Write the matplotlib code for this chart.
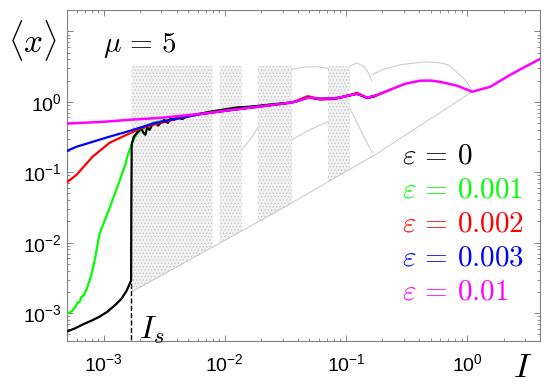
import numpy as np
import matplotlib
matplotlib.use("Agg")
import matplotlib.pyplot as plt

plt.rcParams['font.family'] = ['Liberation Sans', 'DejaVu Sans']
plt.rcParams['mathtext.fontset'] = 'cm'
plt.rcParams['hatch.color'] = '#cacaca'
plt.rcParams['hatch.linewidth'] = 0.6

# ---- curves <x>(I), log10(I) ----
lgI_mag = [-3.306, -3.0, -2.785, -2.537, -2.207, -1.959, -1.711, -1.463, -1.421, -1.36, -1.314,
           -1.25, -1.215, -1.091, -1.0, -0.909, -0.86, -0.826, -0.760, -0.636, -0.512, -0.388,
           -0.30, -0.223, -0.083, 0.041, 0.190, 0.355, 0.479, 0.603]
x_mag = [0.49, 0.52, 0.555, 0.59, 0.67, 0.76, 0.856, 0.968, 1.0, 1.08, 1.14,
         1.12, 1.10, 1.12, 1.2, 1.30, 1.22, 1.14, 1.22, 1.48, 1.80, 1.99,
         2.0, 1.92, 1.69, 1.39, 1.63, 2.41, 3.14, 4.07]

lgI_red = [-3.306, -3.223, -3.091, -2.950, -2.810, -2.678, -2.595, -2.4, -2.207, -1.959, -1.711,
           -1.463, -1.421, -1.36, -1.314, -1.25, -1.215, -1.091, -1.0, -0.909, -0.86, -0.826,
           -0.760, -0.636]
x_red = [0.071, 0.092, 0.166, 0.262, 0.34, 0.428, 0.47, 0.57, 0.665, 0.76, 0.856,
         0.968, 1.01, 1.12, 1.20, 1.13, 1.07, 1.10, 1.2, 1.34, 1.22, 1.12,
         1.20, 1.48]

lgI_blue = [-3.306, -3.223, -3.091, -2.950, -2.810, -2.678, -2.595, -2.4, -2.207, -1.959, -1.711,
            -1.463, -1.421, -1.314, -1.215, -1.091, -0.909, -0.826, -0.760]
x_blue = [0.20, 0.23, 0.27, 0.32, 0.375, 0.44, 0.49, 0.575, 0.665, 0.76, 0.856,
          0.968, 1.0, 1.15, 1.10, 1.11, 1.30, 1.14, 1.21]

lgI_green = [-3.306, -3.281, -3.256, -3.231, -3.215, -3.198, -3.182, -3.165, -3.149, -3.132,
             -3.116, -3.099, -3.083, -3.066, -3.050, -3.033, -3.008, -2.975, -2.950, -2.926,
             -2.901, -2.876, -2.851, -2.826, -2.802, -2.769, -2.744, -2.719, -2.686, -2.645,
             -2.595, -2.5, -2.4, -2.3, -2.207, -2.1, -1.959, -1.85, -1.711, -1.6,
             -1.463, -1.421, -1.314, -1.215, -1.091, -0.909, -0.826, -0.760]
x_green = [9.84e-4, 1.02e-3, 1.08e-3, 1.24e-3, 1.41e-3, 1.46e-3, 1.71e-3, 1.77e-3, 2.02e-3, 2.38e-3,
           2.89e-3, 3.63e-3, 4.72e-3, 6.54e-3, 9.37e-3, 0.0134, 0.0174, 0.0242, 0.031, 0.0407,
           0.0529, 0.0687, 0.0922, 0.120, 0.171, 0.246, 0.309, 0.363, 0.40, 0.44,
           0.504, 0.54, 0.58, 0.63, 0.67, 0.74, 0.78, 0.82, 0.87, 0.93,
           0.97, 1.0, 1.15, 1.10, 1.11, 1.30, 1.14, 1.21]

lgI_black = [-3.306, -3.240, -3.174, -3.099, -3.033, -2.967, -2.893, -2.851, -2.810, -2.773,
             -2.771, -2.768, -2.75, -2.72, -2.69, -2.67, -2.655, -2.64, -2.62, -2.60,
             -2.57, -2.55, -2.52, -2.50, -2.47, -2.45, -2.42, -2.40, -2.35, -2.30,
             -2.2, -2.1, -2.0, -1.9, -1.8, -1.711, -1.6, -1.463, -1.421, -1.314,
             -1.215, -1.091, -0.909, -0.826, -0.760]
x_black = [5.47e-4, 6.03e-4, 6.87e-4, 7.83e-4, 8.92e-4, 1.05e-3, 1.36e-3, 1.61e-3, 2.08e-3, 2.9e-3,
           0.03, 0.25, 0.32, 0.37, 0.42, 0.36, 0.34, 0.43, 0.40, 0.47,
           0.50, 0.46, 0.52, 0.55, 0.50, 0.57, 0.55, 0.60, 0.57, 0.63,
           0.68, 0.73, 0.78, 0.83, 0.85, 0.88, 0.92, 0.97, 1.0, 1.15,
           1.10, 1.11, 1.30, 1.14, 1.21]

I_s = 1.69e-3
x_at_Is = 2.9e-3

# ---- grey bifurcation background (chaotic bands + periodic branches) ----
band_left = [1.70e-3, 9.09e-3, 0.0187, 0.071]
band_right = [7.96e-3, 0.0138, 0.0358, 0.108]
band_low_left = [2.0e-3, 9.9e-3, 0.0196, 0.073]
band_low_right = [8.7e-3, 0.0147, 0.036, 0.111]
band_top = 3.2

branches = {
    'lower': ([1.75e-3, 0.0259, 0.174, 1.10], [2.05e-3, 0.0267, 0.177, 1.39]),
    'arc': (10 ** np.array([-0.785, -0.702, -0.554, -0.347, -0.223, -0.157, -0.041, 0.008, 0.041]),
            [2.42, 2.84, 3.35, 3.69, 3.57, 3.35, 2.26, 1.80, 1.39]),
    'lobe': (10 ** np.array([-0.967, -0.909, -0.851, -0.810, -0.785]), [3.24, 3.56, 3.14, 2.49, 1.92]),
    'drop': (10 ** np.array([-0.967, -0.88, -0.785]), [0.80, 0.40, 0.19]),
    'mid1': (10 ** np.array([-1.446, -1.298, -1.149]), [0.289, 0.401, 0.52]),
    'top1': (10 ** np.array([-1.446, -1.35, -1.25, -1.149]), [2.9, 3.1, 3.15, 3.0]),
    'mid2': (10 ** np.array([-1.860, -1.793, -1.727]), [0.209, 0.289, 0.428]),
}

fig = plt.figure(figsize=(5.5, 3.89), dpi=100)
ax = fig.add_axes([0.122, 0.123, 0.860, 0.851])
ax.set_xscale('log')
ax.set_yscale('log')

for l, r, bl, br in zip(band_left, band_right, band_low_left, band_low_right):
    ax.fill_between([l, r], [bl, br], [band_top, band_top], facecolor='#f1f1f1',
                    edgecolor='#cacaca', hatch='.....', lw=0, zorder=1)
for bx, by in branches.values():
    ax.plot(bx, by, color='#c8c8c8', lw=0.7, zorder=1)

ax.plot([I_s, I_s], [1e-4, x_at_Is], 'k--', lw=1.0, zorder=2)
ax.plot(10 ** np.array(lgI_green), x_green, color='#00ff00', lw=1.6, zorder=3)
ax.plot(10 ** np.array(lgI_black), x_black, color='k', lw=1.6, zorder=3)
ax.plot(10 ** np.array(lgI_red), x_red, color='#ff0000', lw=1.6, zorder=4)
ax.plot(10 ** np.array(lgI_blue), x_blue, color='#0000ff', lw=1.6, zorder=4)
ax.plot(10 ** np.array(lgI_mag), x_mag, color='#ff00ff', lw=1.8, zorder=5)

ax.set_xlim(5e-4, 4.0)
ax.set_ylim(4e-4, 20)
ax.set_xticks([1e-3, 1e-2, 1e-1, 1e0])
ax.set_xticklabels([r'$\mathdefault{10^{-3}}$', r'$\mathdefault{10^{-2}}$',
                    r'$\mathdefault{10^{-1}}$', r'$\mathdefault{10^{0}}$'])
ax.set_yticks([1e-3, 1e-2, 1e-1, 1e0, 1e1])
ax.set_yticklabels([r'$\mathdefault{10^{-3}}$', r'$\mathdefault{10^{-2}}$',
                    r'$\mathdefault{10^{-1}}$', r'$\mathdefault{10^{0}}$', ''])

ax.tick_params(which='both', direction='in', top=True, right=True, color='#808080', labelsize=14)
ax.tick_params(which='major', length=4, width=0.7)
ax.tick_params(which='minor', length=2, width=0.6)
ax.tick_params(axis='x', pad=9)
ax.tick_params(axis='y', pad=4)
for s in ax.spines.values():
    s.set_color('#808080')
    s.set_linewidth(0.8)

ax.text(0.076, 0.894, r'$\mu\,=\,5$', transform=ax.transAxes, fontsize=21, ha='left', va='center')
labels = [r'$\varepsilon\,=\,0$', r'$\varepsilon\,=\,0.001$', r'$\varepsilon\,=\,0.002$',
          r'$\varepsilon\,=\,0.003$', r'$\varepsilon\,=\,0.01$']
colors = ['k', '#00ff00', '#ff0000', '#0000ff', '#ff00ff']
for i, (lab, c) in enumerate(zip(labels, colors)):
    ax.text(0.708, 0.562 - 0.103 * i, lab, transform=ax.transAxes, fontsize=21,
            color=c, ha='left', va='center')
ax.text(0.152, 0.009, r'$I_s$', transform=ax.transAxes, fontsize=23, ha='left', va='baseline')

fig.text(0.06, 0.897, r'$\langle x\rangle$', fontsize=24, ha='center', va='center')
fig.text(0.951, 0.054, r'$I$', fontsize=25, ha='center', va='center')

fig.savefig('out.png', dpi=100)
